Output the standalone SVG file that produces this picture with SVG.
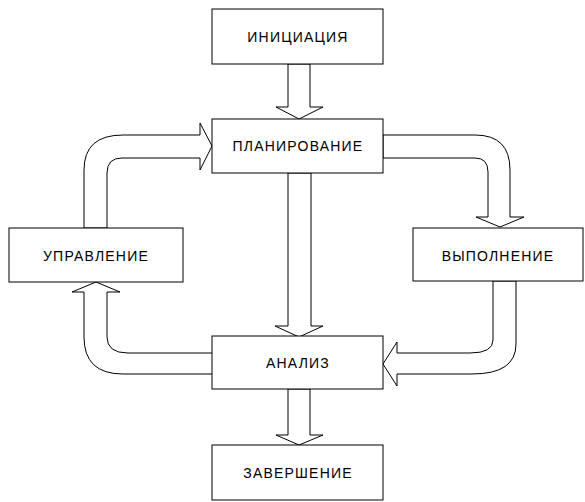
<svg xmlns="http://www.w3.org/2000/svg" width="585" height="502" viewBox="0 0 585 502">
<style>
.box{fill:#fff;stroke:#000;stroke-width:1}
.arr{fill:#fff;stroke:#000;stroke-width:1;stroke-linejoin:miter}
.lbl{font-family:"Liberation Sans",Arial,sans-serif;font-size:14px;letter-spacing:1.2px;text-anchor:middle;fill:#000}
</style>
<rect width="585" height="502" fill="#fff"/>
<g id="connectors">
<polygon class="arr" points="288,64 288,107 276,107 299,119 323,107 310,107 310,64"/>
<polygon class="arr" points="288,173 288,326 275,326 299,337 323,326 311,326 311,173"/>
<polygon class="arr" points="288,389 288,435 276,435 299,445 323,435 310,435 310,389"/>
<path class="arr" d="M84,228 L84,170 Q84,135 123,135 L200,135 L200,123 L212,146 L200,170 L200,158 L122,158 Q107,158 107,173 L107,228 Z"/>
<path class="arr" d="M383,135 L475,135 Q510,135 510,170 L510,217 L524,217 L500,227 L476,217 L488,217 L488,172 Q488,158 475,158 L383,158 Z"/>
<path class="arr" d="M493,281 L493,340 Q493,353 470,353 L397,353 L397,342 L383,364 L397,386 L397,374 L472,374 Q516,374 516,344 L516,281 Z"/>
<path class="arr" d="M213,353 L128,353 Q107,353 107,337 L107,292 L120,292 L96,282 L72,292 L84,292 L84,337 Q84,374 123,374 L213,374 Z"/>
</g>
<g id="node-init"><rect class="box" x="212" y="9" width="171" height="55"/><text class="lbl" x="298" y="42">ИНИЦИАЦИЯ</text></g>
<g id="node-plan"><rect class="box" x="212" y="119" width="171" height="54"/><text class="lbl" x="298" y="151">ПЛАНИРОВАНИЕ</text></g>
<g id="node-control"><rect class="box" x="9" y="228" width="174" height="54"/><text class="lbl" x="96" y="261">УПРАВЛЕНИЕ</text></g>
<g id="node-exec"><rect class="box" x="413" y="228" width="170" height="53"/><text class="lbl" x="498" y="261">ВЫПОЛНЕНИЕ</text></g>
<g id="node-analysis"><rect class="box" x="212" y="336" width="171" height="53"/><text class="lbl" x="298" y="368">АНАЛИЗ</text></g>
<g id="node-end"><rect class="box" x="212" y="445" width="171" height="55"/><text class="lbl" x="298" y="478">ЗАВЕРШЕНИЕ</text></g>
</svg>
